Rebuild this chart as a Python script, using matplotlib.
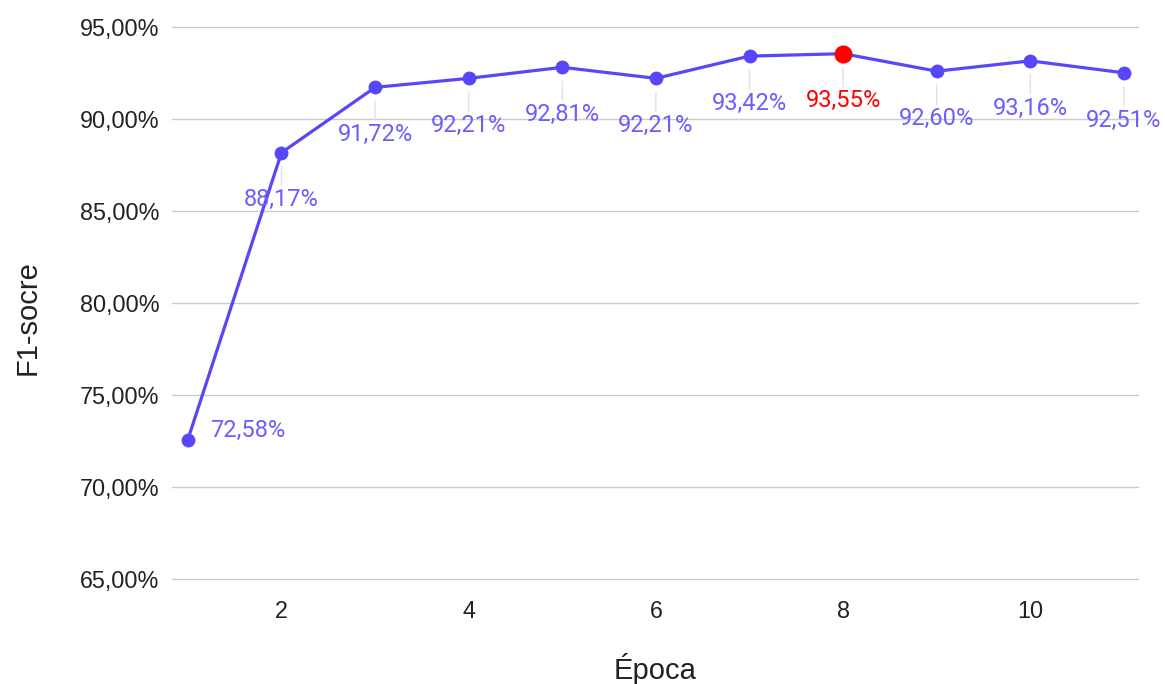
import matplotlib.pyplot as plt
from matplotlib.ticker import FuncFormatter

epochs = [1, 2, 3, 4, 5, 6, 7, 8, 9, 10, 11]
f1_scores = [72.58, 88.17, 91.72, 92.21, 92.81, 92.21, 93.42, 93.55, 92.60, 93.16, 92.51]
best_epoch = 8

line_color = '#5847f8'
label_color = '#6b5eff'
best_color = '#ff0000'


def pct(v, pos=None):
    return f"{v:.2f}%".replace('.', ',')


fig = plt.figure(figsize=(11.65, 6.84), dpi=100)
ax = fig.add_axes([0.1476, 0.1535, 0.8292, 0.807])

ax.plot(epochs, f1_scores, color=line_color, lw=2.3, marker='o', ms=10,
        markeredgewidth=0, zorder=3, solid_capstyle='round')
bi = epochs.index(best_epoch)
ax.plot([epochs[bi]], [f1_scores[bi]], 'o', color=best_color, ms=13,
        markeredgewidth=0, zorder=4)

for x, y in zip(epochs, f1_scores):
    col = best_color if x == best_epoch else label_color
    if x == epochs[0]:
        ax.annotate(pct(y), (x, y), xytext=(16, 6.5), textcoords='offset points',
                    ha='left', va='center', color=col, fontsize=17,
                    family='Roboto', zorder=5)
    else:
        ax.annotate(pct(y), (x, y), xytext=(0, -34), textcoords='offset points',
                    ha='center', va='center', color=col, fontsize=17,
                    family='Roboto', zorder=5,
                    arrowprops=dict(arrowstyle='-', color='#e2e2e2', lw=1,
                                    shrinkA=0, shrinkB=10))

ax.set_xlim(0.83, 11.15)
ax.set_ylim(65, 95)
ax.set_xticks([2, 4, 6, 8, 10])
ax.set_yticks([65, 70, 75, 80, 85, 90, 95])
ax.yaxis.set_major_formatter(FuncFormatter(pct))
ax.grid(axis='y', color='#cccccc', lw=1, zorder=0)
for gl in ax.get_ygridlines():
    gl.set_clip_on(False)
ax.set_axisbelow(True)
for s in ax.spines.values():
    s.set_visible(False)
ax.tick_params(length=0, labelsize=16.8, labelcolor='#222222')
ax.tick_params(axis='y', pad=9)
ax.tick_params(axis='x', pad=15)
for t in ax.get_xticklabels() + ax.get_yticklabels():
    t.set_family('Liberation Sans')

ax.set_xlabel('Época', fontsize=21, family='Liberation Sans', color='#222222', labelpad=22)
ax.set_ylabel('F1-socre', fontsize=21, family='Liberation Sans', color='#222222')
ax.yaxis.set_label_coords(-0.135, 0.473)

fig.savefig('out.png', dpi=100)
